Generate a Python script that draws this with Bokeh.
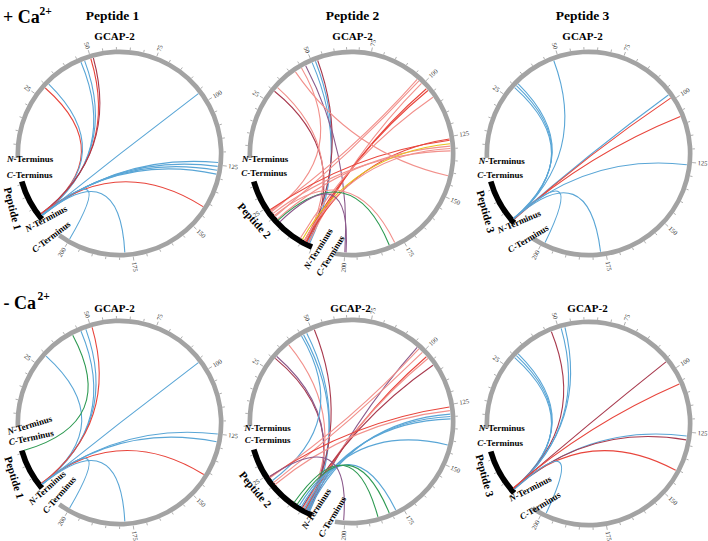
import math
from bokeh.plotting import figure
from bokeh.models import Range1d, ColumnDataSource
from bokeh.embed import file_html
from bokeh.resources import INLINE
from bokeh.core.properties import value

# ---------------- data ----------------
GCAP_LENGTH = 204
peptide_lengths = {"Peptide 1": 16, "Peptide 2": 37, "Peptide 3": 18}
gcap_tick_labels = [25, 50, 75, 100, 125, 150, 175, 200]
peptide_tick_labels = [25]
column_titles = ["Peptide 1", "Peptide 2", "Peptide 3"]
row_labels = ["+ Ca", "- Ca"]
row_superscript = "2+"

link_colors = {
    "blue": "#5aa6d6", "red": "#e8453c", "lightred": "#f2918c",
    "darkred": "#a83a4e", "purple": "#8b5a8c", "green": "#2e9a52",
    "yellow": "#e6c21f",
}

# links: (track A, position A, track B, position B, colour)  P = peptide, G = GCAP-2
links_plus_p1 = [
    ("P", 1.5, "G", 29, "red"), ("P", 1.2, "G", 31, "blue"),
    ("P", 1.0, "G", 46, "blue"), ("P", 1.3, "G", 47.5, "blue"),
    ("P", 1.6, "G", 50, "red"), ("P", 1.8, "G", 51, "darkred"),
    ("P", 1.0, "G", 96, "blue"), ("P", 1.0, "G", 124, "blue"),
    ("P", 1.2, "G", 125.5, "blue"), ("P", 1.4, "G", 127, "blue"),
    ("P", 1.6, "G", 128.5, "blue"), ("P", 1.8, "G", 142, "red"),
    ("P", 1.0, "G", 178, "blue"), ("P", 1.2, "G", 200, "blue"),
]
links_plus_p2 = [
    ("P", 2.0, "G", 30, "darkred"), ("P", 3.5, "G", 32, "lightred"),
    ("P", 22.5, "G", 45, "lightred"), ("P", 1.5, "G", 50, "blue"),
    ("P", 2.5, "G", 51.5, "blue"), ("P", 3.0, "G", 52.5, "darkred"),
    ("G", 47, "G", 200, "purple"), ("P", 23, "G", 97, "lightred"),
    ("P", 20, "G", 98, "lightred"), ("P", 2.0, "G", 99.5, "lightred"),
    ("P", 3.0, "G", 102.5, "red"), ("P", 4.0, "G", 103.5, "red"),
    ("P", 6.0, "G", 107, "lightred"), ("P", 23.5, "G", 126.5, "red"),
    ("P", 3.0, "G", 126, "red"), ("P", 18.5, "G", 129, "lightred"),
    ("P", 4.0, "G", 130, "lightred"), ("P", 21.5, "G", 131, "lightred"),
    ("P", 5.0, "G", 128, "yellow"), ("G", 42, "G", 141.5, "lightred"),
    ("P", 20.5, "G", 178.5, "lightred"), ("P", 18, "G", 181, "green"),
    ("P", 17, "G", 199.5, "purple"),
]
links_plus_p3 = [
    ("P", 1.0, "G", 29.5, "blue"), ("P", 1.2, "G", 30.5, "blue"),
    ("P", 1.4, "G", 31.5, "blue"), ("P", 1.0, "G", 48, "blue"),
    ("P", 1.2, "G", 97.5, "blue"), ("P", 1.0, "G", 99, "red"),
    ("P", 1.3, "G", 107, "red"), ("P", 1.5, "G", 126, "blue"),
    ("P", 1.2, "G", 177, "blue"), ("P", 1.4, "G", 199, "blue"),
]
links_minus_p1 = [
    ("P", 1.2, "G", 29.5, "blue"), ("P", 15.8, "G", 42.5, "green"),
    ("P", 1.0, "G", 46, "blue"), ("P", 1.2, "G", 48, "blue"),
    ("P", 1.4, "G", 50.5, "red"), ("P", 1.0, "G", 96, "blue"),
    ("P", 1.2, "G", 125, "blue"), ("P", 1.4, "G", 128, "blue"),
    ("P", 1.6, "G", 141.5, "red"), ("P", 1.0, "G", 178, "blue"),
    ("P", 1.2, "G", 200, "blue"),
]
links_minus_p2 = [
    ("P", 2.0, "G", 30.5, "darkred"), ("P", 2.5, "G", 31.5, "purple"),
    ("P", 3.5, "G", 38.5, "lightred"), ("P", 1.5, "G", 46, "blue"),
    ("P", 2.5, "G", 47.5, "blue"), ("P", 22, "G", 45, "blue"),
    ("P", 3.0, "G", 51, "darkred"), ("P", 2.0, "G", 97, "purple"),
    ("P", 23.5, "G", 98, "lightred"), ("P", 21, "G", 100, "lightred"),
    ("P", 3.5, "G", 102.5, "red"), ("P", 4.5, "G", 103.5, "lightred"),
    ("P", 5.0, "G", 107, "darkred"), ("P", 24, "G", 126, "red"),
    ("P", 20, "G", 127.5, "lightred"), ("P", 2.0, "G", 129, "blue"),
    ("P", 3.0, "G", 130, "blue"), ("P", 4.0, "G", 131, "blue"),
    ("P", 5.5, "G", 142, "blue"), ("P", 6.5, "G", 178, "blue"),
    ("P", 7.5, "G", 181, "green"), ("P", 9, "G", 186, "green"),
    ("P", 24, "G", 200.5, "purple"),
]
links_minus_p3 = [
    ("P", 1.0, "G", 29.5, "blue"), ("P", 1.2, "G", 30.5, "blue"),
    ("P", 1.4, "G", 31.5, "blue"), ("P", 1.3, "G", 47, "darkred"),
    ("P", 1.0, "G", 51, "blue"), ("P", 1.2, "G", 52.5, "blue"),
    ("P", 1.4, "G", 96, "darkred"), ("P", 1.6, "G", 106, "red"),
    ("P", 1.0, "G", 126.5, "blue"), ("P", 1.2, "G", 128, "darkred"),
    ("P", 1.5, "G", 140.5, "red"), ("P", 1.0, "G", 198.5, "blue"),
]

# ---------------- layout / style ----------------
FONT = value("Liberation Serif")
W, H = 708, 541
GAP = 13.5          # degrees between the two tracks
START = 182.5       # angle of GCAP-2 position 0
R_IN, R_OUT = 99.3, 104.0
R_LINK = 99.0
RING = "#a3a3a3"

panels = [
    # (centre x, centre y in page px, peptide, links, GCAP label x, GCAP label y, layout key)
    (119, 153, "Peptide 1", links_plus_p1, 114, 35.5, 0),
    (351, 153, "Peptide 2", links_plus_p2, 352, 35.5, 1),
    (588, 153, "Peptide 3", links_plus_p3, 582, 35.5, 2),
    (119, 422, "Peptide 1", links_minus_p1, 114, 307, 3),
    (351, 421, "Peptide 2", links_minus_p2, 350, 307.5, 4),
    (588, 423, "Peptide 3", links_minus_p3, 587, 307, 5),
]
# GCAP-side terminus labels: (N centre, N angle, C centre, C angle)
gcap_term_pos = [
    ((30, 158), 0, (29.5, 174.5), 0),
    ((265, 158.3), 0, (264, 172.7), 0),
    ((501.7, 160), 0, (500, 174), 0),
    ((29.5, 424.5), 17, (31, 437), 12),
    ((267.5, 427.8), 0, (267.5, 439.7), 0),
    ((501.7, 427.3), 0, (500, 442.7), 0),
]
# peptide-side terminus labels
pep_term_pos = [
    ((46, 218), 28, (51, 236), 37),
    ((318, 248), 58, (330, 255), 58),
    ((519, 221), 23, (528, 238), 31),
    ((47, 487), 42, (59, 494), 49),
    ((316, 508), 57, (332, 516), 59),
    ((530, 488), 27, (540, 505), 31),
]
# peptide name along its arc
pep_name_pos = [
    ((12.5, 208), -76), ((254, 220), -48), ((485.5, 211), -75),
    ((14, 477), -73), ((255, 489), -50), ((484.5, 475), -75),
]

p = figure(width=W, height=H, x_range=Range1d(0, W), y_range=Range1d(-H, 0),
           output_backend="svg", toolbar_location=None, min_border=0,
           x_axis_type=None, y_axis_type=None)
p.grid.visible = False
p.outline_line_color = None
p.background_fill_color = "white"
p.border_fill_color = "white"


def add_text(x, y, txt, size, angle=0.0, style="bold", align="center",
             baseline="middle", color="black"):
    p.text(x=[x], y=[-y], text=[txt], angle=[math.radians(angle)],
           text_font=FONT, text_font_size=f"{size}px", text_font_style=style,
           text_align=align, text_baseline=baseline, text_color=color)


def terminus_label(cx, cy, letter, size, angle_deg):
    letter_w = (0.722 if letter == "N" else 0.667) * size
    rest_w = 4.5 * size
    total = letter_w + rest_w
    a = math.radians(angle_deg)
    ux, uy = math.cos(a), math.sin(a)
    x0 = cx - total / 2 * ux
    y0 = -cy - total / 2 * uy
    p.text(x=[x0], y=[y0], text=[letter], angle=[a], text_font=FONT,
           text_font_size=f"{size}px", text_font_style="bold italic",
           text_align="left", text_baseline="middle", text_color="black")
    p.text(x=[x0 + letter_w * ux], y=[y0 + letter_w * uy], text=["-Terminus"], angle=[a],
           text_font=FONT, text_font_size=f"{size}px", text_font_style="bold",
           text_align="left", text_baseline="middle", text_color="black")


for cx, cy, pep, links, gx, gy, k in panels:
    L = peptide_lengths[pep]
    s = (360.0 - 2 * GAP) / (GCAP_LENGTH + L)

    def ga(pos):
        return math.radians(START - pos * s)

    def pa(pos):
        return math.radians(START - GCAP_LENGTH * s - GAP - pos * s)

    def ang(track, pos):
        return ga(pos) if track == "G" else pa(pos)

    Y = -cy
    # tracks
    p.annular_wedge(x=[cx], y=[Y], inner_radius=R_IN, outer_radius=R_OUT,
                    start_angle=ga(GCAP_LENGTH), end_angle=ga(0), direction="anticlock",
                    fill_color=RING, line_color=None)
    p.annular_wedge(x=[cx], y=[Y], inner_radius=R_IN - 0.5, outer_radius=R_OUT + 0.5,
                    start_angle=pa(L), end_angle=pa(0), direction="anticlock",
                    fill_color="black", line_color=None)

    # ticks
    tx0, ty0, tx1, ty1 = [], [], [], []
    for pos in range(0, GCAP_LENGTH + 1, 5):
        a = ga(pos)
        ln = 4.0 if pos % 25 == 0 else 2.5
        tx0.append(cx + R_OUT * math.cos(a)); ty0.append(Y + R_OUT * math.sin(a))
        tx1.append(cx + (R_OUT + ln) * math.cos(a)); ty1.append(Y + (R_OUT + ln) * math.sin(a))
    for pos in range(0, L + 1, 5):
        a = pa(pos)
        ln = 4.0 if pos % 25 == 0 else 2.5
        tx0.append(cx + (R_OUT + 0.5) * math.cos(a)); ty0.append(Y + (R_OUT + 0.5) * math.sin(a))
        tx1.append(cx + (R_OUT + 0.5 + ln) * math.cos(a)); ty1.append(Y + (R_OUT + 0.5 + ln) * math.sin(a))
    p.segment(x0=tx0, y0=ty0, x1=tx1, y1=ty1, line_color="#9a9a9a", line_width=0.8)

    # tick labels
    def tick_label(a, txt):
        r = R_OUT + 5.5
        x = cx + r * math.cos(a)
        y = Y + r * math.sin(a)
        if math.cos(a) >= 0:
            rot, align = a, "left"
        else:
            rot, align = a + math.pi, "right"
        p.text(x=[x], y=[y], text=[txt], angle=[rot], text_font=FONT,
               text_font_size="6.5px", text_align=align, text_baseline="middle",
               text_color="#333333")

    for t in gcap_tick_labels:
        tick_label(ga(t), str(t))
    for t in peptide_tick_labels:
        if t <= L:
            tick_label(pa(t), str(t))

    # links: quadratic Bezier with the control point at the centre
    d = dict(x0=[], y0=[], x1=[], y1=[], cx=[], cy=[], color=[])
    for ta, pa_, tb, pb, col in links:
        a0 = ang(ta, pa_)
        a1 = ang(tb, pb)
        d["x0"].append(cx + R_LINK * math.cos(a0)); d["y0"].append(Y + R_LINK * math.sin(a0))
        d["x1"].append(cx + R_LINK * math.cos(a1)); d["y1"].append(Y + R_LINK * math.sin(a1))
        d["cx"].append(cx); d["cy"].append(Y)
        d["color"].append(link_colors[col])
    src = ColumnDataSource(d)
    p.quadratic(x0="x0", y0="y0", x1="x1", y1="y1", cx="cx", cy="cy", source=src,
                line_color="color", line_width=1.1)

    # labels
    add_text(gx, gy, "GCAP-2", 11)
    (nxy, na, cxy, ca) = gcap_term_pos[k]
    terminus_label(nxy[0], nxy[1], "N", 9, na)
    terminus_label(cxy[0], cxy[1], "C", 9, ca)
    (nxy, na, cxy, ca) = pep_term_pos[k]
    terminus_label(nxy[0], nxy[1], "N", 9, na)
    terminus_label(cxy[0], cxy[1], "C", 9, ca)
    (pxy, pang) = pep_name_pos[k]
    add_text(pxy[0], pxy[1], pep, 11, angle=pang)

# column titles
for title, x in zip(column_titles, [112, 352, 582]):
    add_text(x, 14.5, title, 13.5, baseline="alphabetic")

# row labels
add_text(2.5, 16, row_labels[0], 18, align="left", baseline="alphabetic")
add_text(39, 10.5, row_superscript, 11.5, align="left", baseline="alphabetic")
add_text(3, 302.5, row_labels[1], 18, align="left", baseline="alphabetic")
add_text(37, 295.5, row_superscript, 11.5, align="left", baseline="alphabetic")

open("out.html", "w").write(file_html(p, INLINE))
